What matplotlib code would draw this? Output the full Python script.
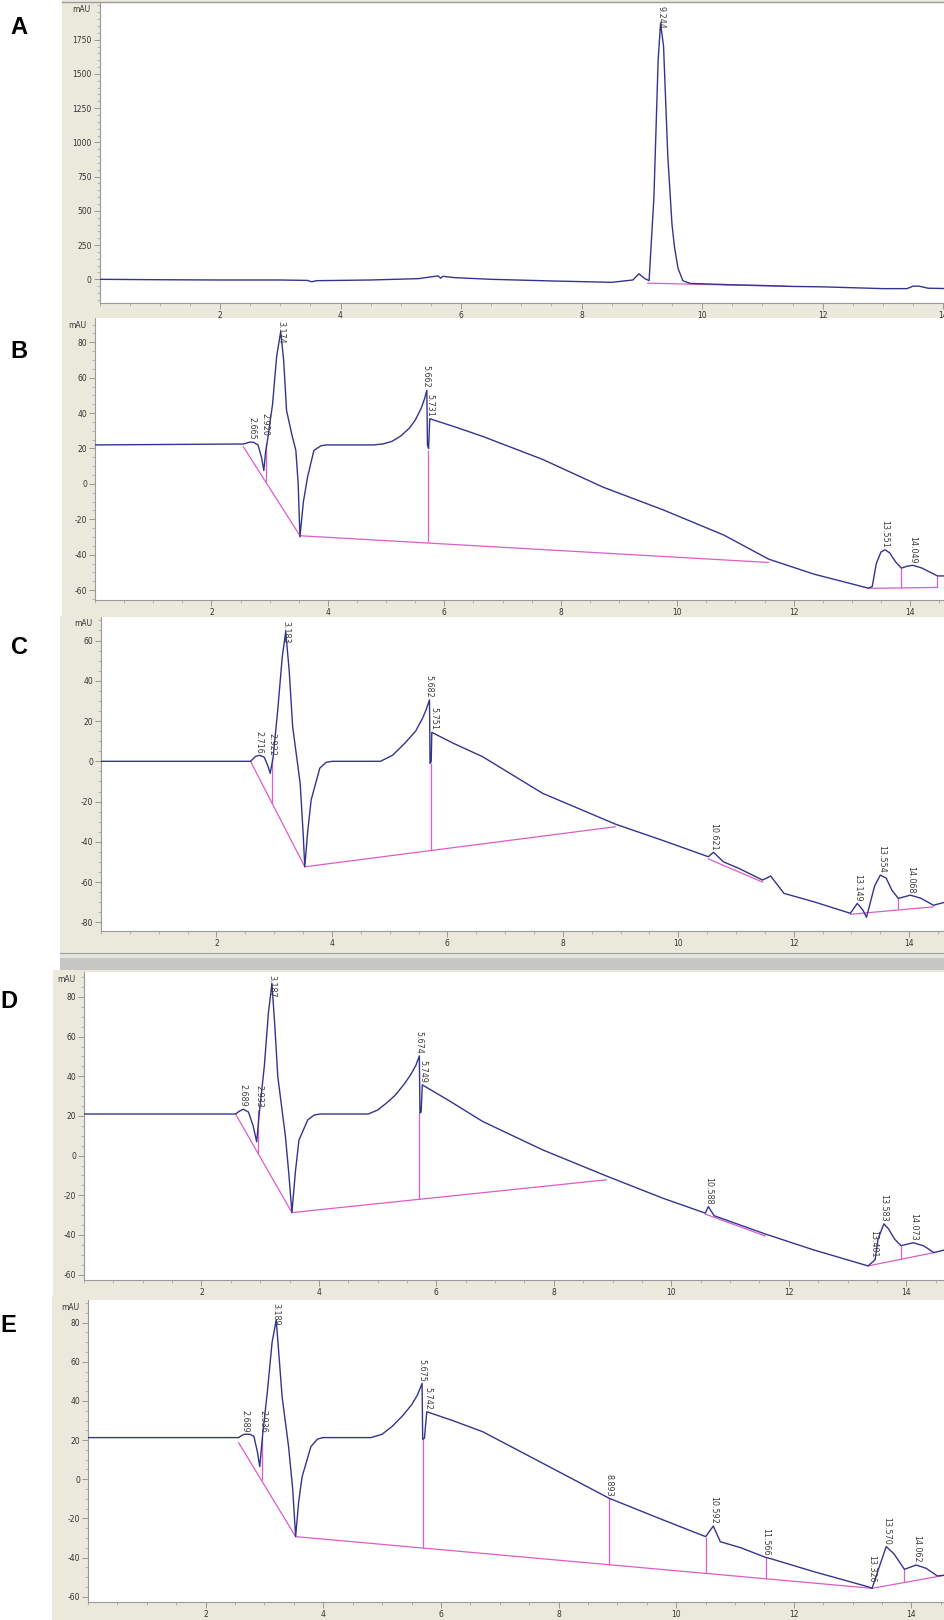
import numpy as np
import matplotlib
matplotlib.use("Agg")
import matplotlib.pyplot as plt
from matplotlib.patches import Rectangle
from matplotlib.lines import Line2D
from matplotlib.ticker import MultipleLocator

nan = np.nan

# ================= DATA =================
# A
a_t = [0, 1, 2, 3, 3.45, 3.52, 3.6, 4.5, 5.3, 5.5, 5.62, 5.66, 5.7, 5.9, 6.5, 7.5, 8.5,
       8.85, 8.95, 9.05, 9.12, 9.2, 9.27, 9.31, 9.36, 9.43, 9.5, 9.54, 9.6, 9.68, 9.8,
       10.5, 11, 11.5, 12, 13, 13.4, 13.5, 13.6, 13.75, 14.1]
a_v = [0, -3, -5, -5, -8, -18, -10, -5, 5, 18, 25, 8, 22, 12, 0, -12, -22,
       -5, 40, 5, -10, 600, 1600, 1870, 1700, 900, 400, 240, 80, -10, -30,
       -40, -45, -52, -55, -68, -68, -50, -50, -65, -68]
a_base_t = [9.1, 11.45]
a_base_v = [-28, -52]
a_drop_t, a_drop_top, a_drop_bot = [], [], []
a_rt = ["9.244"]
a_rt_t = [9.31]
a_rt_v = [1870]

# B
b_t = [0, 2.4, 2.55, 2.66, 2.72, 2.8, 2.86, 2.90, 2.93, 2.96, 3.05, 3.12, 3.19, 3.24, 3.29,
       3.38, 3.45, 3.49, 3.52, 3.58, 3.65, 3.76, 3.88, 3.97, 4.79, 4.95, 5.1, 5.25, 5.4,
       5.5, 5.6, 5.66, 5.70, 5.71, 5.73, 5.75, 6.2, 6.66, 7.69, 8.73, 9.76, 10.8, 11.57,
       12.35, 13.0, 13.28, 13.35, 13.42, 13.5, 13.57, 13.65, 13.75, 13.85, 13.95, 14.05,
       14.2, 14.47, 14.6]
b_v = [22, 22.5, 22.5, 23.6, 23.5, 22, 15, 7.5, 18, 24, 45, 72, 86, 70, 41.5,
       28, 18.9, 0, -29.9, -10, 3.7, 18.9, 21.5, 22, 22, 22.6, 24, 27, 31.5,
       36, 42.5, 48, 52.9, 22, 20, 36.8, 32, 26.8, 13.8, -1.9, -14.7, -28.9, -42.5,
       -51, -56.5, -58.9, -58, -45, -38.5, -37.2, -39, -44, -47.6, -46.5, -46,
       -47.5, -52, -52]
b_base_t = [2.55, 3.52, 11.57, nan, 13.28, 14.47]
b_base_v = [20.9, -29.3, -44.4, nan, -59, -58.5]
b_drop_t = [2.93, 5.72, 13.85, 14.47]
b_drop_top = [23, 19, -47.6, -52]
b_drop_bot = [1, -33, -58.8, -58.5]
b_rt = ["2.665", "2.920", "3.174", "5.662", "5.731", "13.551", "14.049"]
b_rt_t = [2.70, 2.92, 3.19, 5.68, 5.76, 13.57, 14.05]
b_rt_v = [23.6, 26, 86, 52.9, 36.8, -37.2, -46]

# C
c_t = [0, 2.59, 2.68, 2.75, 2.83, 2.9, 2.93, 2.98, 3.06, 3.14, 3.20, 3.26, 3.32, 3.45, 3.5,
       3.53, 3.58, 3.64, 3.79, 3.9, 4.0, 4.84, 5.05, 5.26, 5.45, 5.57, 5.63, 5.69, 5.70, 5.72,
       5.73, 6.1, 6.61, 7.65, 8.91, 9.74, 10.52, 10.61, 10.78, 11.05, 11.46, 11.6, 11.83,
       12.35, 12.98, 13.1, 13.2, 13.26, 13.4, 13.5, 13.6, 13.7, 13.81, 14.02, 14.2, 14.42, 14.62]
c_v = [0, 0, 2.5, 3, 2, -3, -6, 1.6, 25, 52, 64.4, 45, 17.2, -10.9, -35,
       -52.4, -35, -19.2, -3.4, -0.5, 0, 0, 3, 8.9, 15, 21.4, 25.5, 30.5, -1, 0,
       14.4, 9, 2.3, -15.9, -31.2, -39.4, -47.4, -45.2, -49.9, -53.2, -59, -57, -65.6,
       -69.8, -75.5, -70.6, -74, -77.5, -62, -56.5, -58, -64, -68.1, -66.5, -68, -71.5, -70]
c_base_t = [2.59, 3.53, 8.91, nan, 10.52, 11.46, nan, 12.98, 14.42]
c_base_v = [0, -52.4, -32.5, nan, -48.5, -60, nan, -76, -72.3]
c_drop_t = [2.96, 5.72, 13.81]
c_drop_top = [1.6, -1, -68.1]
c_drop_bot = [-20.6, -44, -73.5]
c_rt = ["2.716", "2.922", "3.183", "5.682", "5.751", "10.621", "13.149", "13.554", "14.068"]
c_rt_t = [2.73, 2.96, 3.20, 5.68, 5.76, 10.61, 13.1, 13.52, 14.02]
c_rt_v = [3, 1.6, 64.4, 30.5, 14.4, -45.2, -70.6, -56.5, -66.5]

# D
d_t = [0, 2.58, 2.65, 2.71, 2.8, 2.88, 2.94, 2.99, 3.07, 3.14, 3.20, 3.25, 3.30, 3.43, 3.49,
       3.54, 3.6, 3.66, 3.81, 3.92, 4.02, 4.84, 5.0, 5.15, 5.3, 5.45, 5.56, 5.65, 5.71, 5.72,
       5.74, 5.76, 6.2, 6.79, 7.81, 8.89, 9.86, 10.58, 10.63, 10.73, 11.6, 12.42, 13.35,
       13.47, 13.52, 13.62, 13.7, 13.8, 13.91, 14.12, 14.3, 14.47, 14.66]
d_v = [21, 21, 22.5, 23.4, 22, 15, 7, 23, 45, 72, 86.9, 65, 39.8, 9.6, -10,
       -28.7, -8, 7.9, 18, 20.5, 21, 21, 23, 26.5, 30.5, 36, 40.7, 45.5, 50.3, 21.5,
       22, 35.7, 28, 17.2, 2.9, -10.2, -21.5, -29, -25.7, -30.3, -39.5, -47.5, -55.6,
       -52.5, -42, -34.4, -37, -42, -45.4, -43.9, -45.5, -48.9, -47.5]
d_base_t = [2.58, 3.54, 8.89, nan, 10.58, 11.6, nan, 13.35, 14.47]
d_base_v = [21, -28.7, -12.2, nan, -29.5, -40.5, nan, -55.6, -48.9]
d_drop_t = [2.96, 5.71, 13.91]
d_drop_top = [23, 21.5, -45.4]
d_drop_bot = [1.3, -22, -52.3]
d_rt = ["2.689", "2.933", "3.187", "5.674", "5.749", "10.588", "13.401", "13.583", "14.073"]
d_rt_t = [2.71, 2.97, 3.20, 5.71, 5.77, 10.63, 13.45, 13.62, 14.12]
d_rt_v = [23.4, 23, 86.9, 50.3, 35.7, -25.7, -52.5, -34.4, -43.9]

# E
e_t = [0, 2.56, 2.62, 2.66, 2.75, 2.82, 2.88, 2.92, 2.97, 3.05, 3.13, 3.20, 3.25, 3.30, 3.41,
       3.48, 3.53, 3.58, 3.64, 3.79, 3.9, 3.99, 4.81, 5.0, 5.17, 5.35, 5.5, 5.6, 5.68, 5.69,
       5.72, 5.76, 6.2, 6.71, 7.73, 8.86, 9.78, 10.5, 10.63, 10.75, 11.1, 11.52, 11.6, 12.34,
       13.26, 13.33, 13.45, 13.57, 13.7, 13.88, 14.08, 14.25, 14.44, 14.57]
e_v = [21.3, 21.3, 22.5, 23, 23, 22, 14, 6.4, 23, 45, 70, 81.4, 62, 42.2, 16.7,
       -5, -29.3, -12, 1.3, 16.7, 20.5, 21.3, 21.3, 23, 27, 32.5, 38, 43, 49, 20.4,
       21, 34.5, 30, 24.3, 8.2, -9.7, -20.8, -29.3, -23.9, -31.9, -35, -39.9, -40.5, -47.2,
       -54.9, -55.7, -45, -34.4, -38, -46, -43.8, -45.5, -49.4, -49]
e_base_t = [2.56, 3.53, 13.33, 14.57]
e_base_v = [18.7, -29.3, -55.7, -49]
e_drop_t = [2.95, 5.70, 8.86, 10.5, 11.52, 13.88]
e_drop_top = [21.8, 20.4, -9.7, -29.3, -39.9, -46]
e_drop_bot = [-0.6, -35.1, -43.7, -48.1, -50.8, -52.7]
e_rt = ["2.689", "2.936", "3.189", "5.675", "5.742", "8.893", "10.592", "11.566",
        "13.326", "13.570", "14.062"]
e_rt_t = [2.66, 2.97, 3.20, 5.68, 5.77, 8.86, 10.63, 11.52, 13.33, 13.57, 14.08]
e_rt_v = [23, 23, 81.4, 49, 34.5, -9.7, -23.9, -39.9, -54, -34.4, -43.8]

# ================= FIGURA =================
W, H = 945, 1620
fig = plt.figure(figsize=(W / 100, H / 100), dpi=100)
fig.patch.set_facecolor("white")

BEIGE = "#ebe9dc"
TRACE = "#34348f"
BASE = "#dd5cc8"

panels = [
    dict(t=a_t, v=a_v, bt=a_base_t, bv=a_base_v, dt=a_drop_t, dtop=a_drop_top, dbot=a_drop_bot,
         rt=a_rt, rtt=a_rt_t, rtv=a_rt_v, frame=(62, 0, 318), box=(99.5, 3, 303),
         ylim=(-173, 2018), xmax=14.03, major=250, minor=50, letter="A", lxy=(19, 27)),
    dict(t=b_t, v=b_v, bt=b_base_t, bv=b_base_v, dt=b_drop_t, dtop=b_drop_top, dbot=b_drop_bot,
         rt=b_rt, rtt=b_rt_t, rtv=b_rt_v, frame=(62, 318, 616), box=(95, 318, 600),
         ylim=(-65.6, 93.7), xmax=14.6, major=20, minor=5, letter="B", lxy=(19, 351)),
    dict(t=c_t, v=c_v, bt=c_base_t, bv=c_base_v, dt=c_drop_t, dtop=c_drop_top, dbot=c_drop_bot,
         rt=c_rt, rtt=c_rt_t, rtv=c_rt_v, frame=(60, 616, 953), box=(101, 617, 931),
         ylim=(-84.3, 71.7), xmax=14.62, major=20, minor=5, letter="C", lxy=(20, 648)),
    dict(t=d_t, v=d_v, bt=d_base_t, bv=d_base_v, dt=d_drop_t, dtop=d_drop_top, dbot=d_drop_bot,
         rt=d_rt, rtt=d_rt_t, rtv=d_rt_v, frame=(53, 970, 1296), box=(84, 972, 1280),
         ylim=(-62.7, 92.6), xmax=14.66, major=20, minor=5, letter="D", lxy=(9, 1001)),
    dict(t=e_t, v=e_v, bt=e_base_t, bv=e_base_v, dt=e_drop_t, dtop=e_drop_top, dbot=e_drop_bot,
         rt=e_rt, rtt=e_rt_t, rtv=e_rt_v, frame=(52, 1296, 1620), box=(88, 1300, 1602),
         ylim=(-62.7, 91.6), xmax=14.57, major=20, minor=5, letter="E", lxy=(8, 1326)),
]

# beige software frames first
for p in panels:
    fx, fy0, fy1 = p["frame"]
    fig.add_artist(Rectangle((fx / W, 1 - fy1 / H), (W - fx) / W, (fy1 - fy0) / H,
                             transform=fig.transFigure, facecolor=BEIGE, edgecolor="none", zorder=0))
# top border of A and the grey scroll bar under C
fig.add_artist(Line2D([62 / W, 1], [1 - 2 / H] * 2, transform=fig.transFigure, color="#9c9c9c", lw=1))
fig.add_artist(Rectangle((60 / W, 1 - 970 / H), (W - 60) / W, 17 / H, transform=fig.transFigure,
                         facecolor="#c6c6c3", edgecolor="none", zorder=0))
fig.add_artist(Rectangle((60 / W, 1 - 958 / H), (W - 60) / W, 4 / H, transform=fig.transFigure,
                         facecolor="#e4e4e0", edgecolor="none", zorder=0))
fig.add_artist(Line2D([60 / W, 1], [1 - 953 / H] * 2, transform=fig.transFigure, color="#a0a0a0", lw=0.8))


def peak_label(ax, t, v, s):
    # text sits on the apex; pulled down when it would run out of the plot
    y0, y1 = ax.get_ylim()
    per_px = (y1 - y0) / ax.bbox.height
    y = v + 2 * per_px
    if y + 26 * per_px > y1:
        y = y1 - 26 * per_px
    ax.text(t, y, s, rotation=270, ha="center", va="bottom", fontsize=5.8,
            color="#3c3c3c", clip_on=True, zorder=4)


for p in panels:
    left, top, bottom = p["box"]
    ax = fig.add_axes([left / W, 1 - bottom / H, (W - left) / W, (bottom - top) / H])
    ax.set_facecolor("white")
    ax.plot(p["t"], p["v"], color=TRACE, lw=1.0, zorder=3)
    ax.plot(p["bt"], p["bv"], color=BASE, lw=0.9, zorder=2)
    if p["dt"]:
        ax.vlines(p["dt"], p["dbot"], p["dtop"], color=BASE, lw=0.9, zorder=2)
    ax.set_ylim(*p["ylim"])
    ax.xaxis.set_minor_locator(MultipleLocator(0.5))
    ax.yaxis.set_minor_locator(MultipleLocator(p["minor"]))
    ax.set_xticks(list(range(2, 16, 2)))
    ax.set_xlim(0, p["xmax"])
    # major y ticks, leaving room for the mAU caption at the top
    y0, y1 = p["ylim"]
    room = 20 * (y1 - y0) / ax.bbox.height
    yt = [y for y in np.arange(-10 * p["major"], 10 * p["major"] + 1, p["major"])
          if y0 <= y <= y1 - room]
    ax.set_yticks(yt)
    ax.set_yticklabels([f"{int(y)}" for y in yt])
    for s in ["top", "right"]:
        ax.spines[s].set_visible(False)
    for s in ["left", "bottom"]:
        ax.spines[s].set_color("#9a9a9a")
        ax.spines[s].set_linewidth(0.8)
    ax.tick_params(which="major", direction="out", length=4, width=0.6, color="#8a8a8a",
                   labelsize=5.5, labelcolor="#333333", pad=1.5)
    ax.tick_params(which="minor", direction="out", length=2, width=0.5, color="#9a9a9a")
    ax.annotate("mAU", xy=(0, 1), xycoords="axes fraction", xytext=(-9, -7),
                textcoords="offset pixels", ha="right", va="center", fontsize=5.5, color="#333333")
    for s, t, v in zip(p["rt"], p["rtt"], p["rtv"]):
        peak_label(ax, t, v, s)
    lx, ly = p["lxy"]
    fig.text(lx / W, 1 - ly / H, p["letter"], fontsize=17, fontweight="bold",
             family="Liberation Sans", ha="center", va="center", color="black")

fig.savefig("out.png", dpi=100)
